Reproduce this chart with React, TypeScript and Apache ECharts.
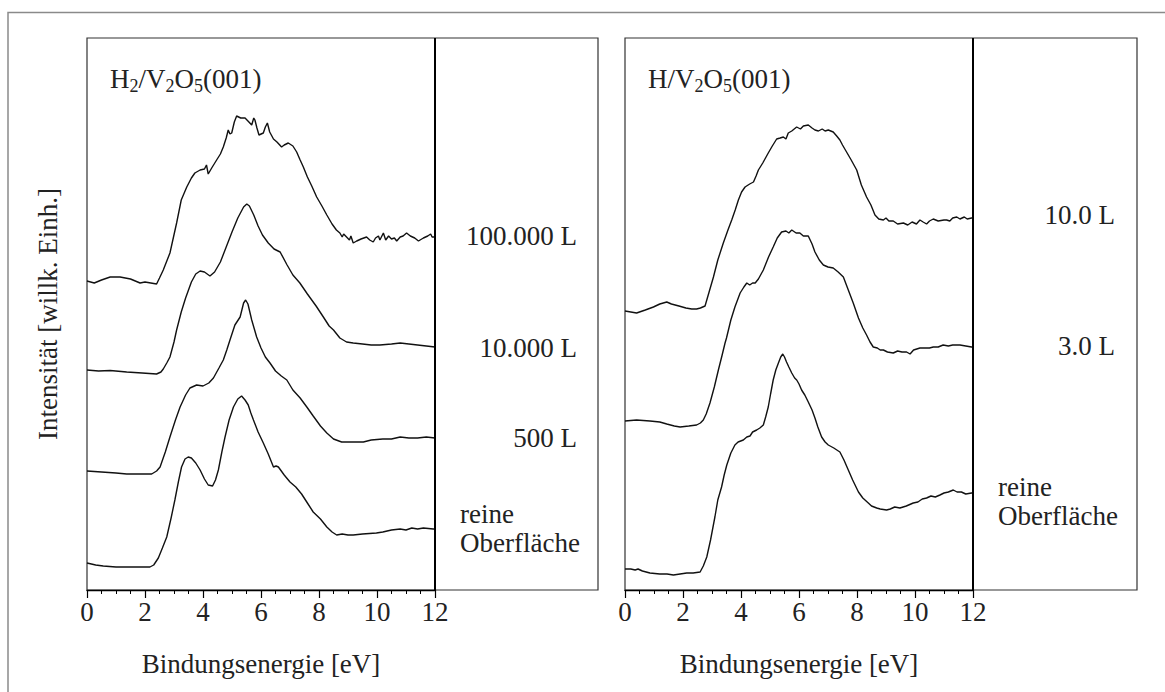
import React, { useEffect, useRef } from "react";
import * as echarts from "echarts";

const FONT = "'Liberation Serif', 'Times New Roman', serif";

// x: binding energy [eV], y: intensity (arbitrary units, offset spectra as drawn)
const xTicks = [0, 2, 4, 6, 8, 10, 12];

const leftTitle = "H₂/V₂O₅(001)";
const rightTitle = "H/V₂O₅(001)";
const leftLabels = ["100.000 L", "10.000 L", "500 L", "reine Oberfläche"];
const rightLabels = ["10.0 L", "3.0 L", "reine Oberfläche"];

const h2_100000: [number, number][] = [
  [0, 309], [0.25, 307], [0.5, 310], [0.8, 313], [1.14, 313], [1.5, 311], [1.83, 307], [2.0, 308], [2.2, 307], [2.4, 306],
  [2.5, 312], [2.63, 320], [2.86, 337], [3.09, 367], [3.25, 390], [3.44, 403], [3.6, 412], [3.72, 417], [3.9, 420], [4.05, 421],
  [4.12, 425], [4.18, 416], [4.3, 422], [4.47, 430], [4.6, 436], [4.7, 443], [4.8, 452], [4.87, 460], [4.93, 456], [4.99, 457],
  [5.08, 468], [5.16, 474], [5.3, 472], [5.45, 472], [5.55, 469], [5.68, 465], [5.75, 472], [5.79, 470], [5.86, 462], [5.93, 455],
  [6.08, 457], [6.15, 463], [6.22, 467], [6.3, 458], [6.43, 451], [6.55, 448], [6.71, 443], [6.8, 445], [6.94, 447], [7.1, 444],
  [7.23, 438], [7.35, 430], [7.46, 423], [7.6, 413], [7.75, 404], [7.92, 393], [8.1, 384], [8.27, 375], [8.45, 366], [8.6, 360],
  [8.72, 357], [8.8, 353], [8.85, 356], [8.95, 353], [9.05, 350], [9.1, 354], [9.18, 347], [9.3, 349], [9.45, 351], [9.64, 353],
  [9.75, 350], [9.87, 348], [9.95, 352], [10.05, 354], [10.1, 350], [10.22, 357], [10.3, 350], [10.4, 354], [10.5, 351], [10.6, 352],
  [10.68, 349], [10.8, 353], [10.9, 354], [11.02, 357], [11.15, 354], [11.3, 352], [11.43, 349], [11.6, 352], [11.75, 354], [11.85, 356],
  [11.9, 353], [12, 353],
];

const h2_10000: [number, number][] = [
  [0, 220], [0.4, 219], [0.8, 219.5], [1.37, 218], [1.9, 217], [2.4, 216], [2.55, 218], [2.63, 221], [2.75, 227], [2.86, 233],
  [3.0, 248], [3.09, 260], [3.25, 278], [3.4, 292], [3.6, 308], [3.75, 316], [3.9, 319], [4.05, 318], [4.24, 314], [4.4, 318],
  [4.6, 328], [4.8, 343], [5.0, 358], [5.2, 372], [5.4, 383], [5.51, 386], [5.6, 384], [5.75, 375], [5.9, 364], [6.05, 355],
  [6.25, 347], [6.45, 341], [6.66, 338], [6.9, 325], [7.1, 315], [7.34, 307], [7.6, 296], [7.9, 284], [8.15, 273], [8.35, 264],
  [8.5, 260], [8.72, 252], [8.95, 248], [9.18, 247], [9.5, 246], [9.8, 245], [10.1, 245], [10.5, 246], [10.8, 247], [11.1, 246],
  [11.4, 245], [11.7, 244], [12, 243],
];

const h2_500: [number, number][] = [
  [0, 119], [0.5, 118], [1.0, 117], [1.37, 116], [1.8, 116], [2.23, 116], [2.4, 119], [2.52, 123], [2.7, 138], [2.86, 153],
  [3.05, 170], [3.21, 183], [3.4, 195], [3.55, 202], [3.78, 205], [4.0, 204], [4.2, 207], [4.36, 212], [4.55, 222], [4.7, 230],
  [4.82, 240], [4.93, 250], [5.1, 265], [5.28, 273], [5.4, 287], [5.47, 290], [5.55, 286], [5.68, 270], [5.85, 253], [6.0, 242],
  [6.15, 233], [6.31, 227], [6.5, 219], [6.7, 214], [6.89, 210], [7.1, 200], [7.35, 192], [7.58, 183], [7.8, 174], [8.05, 164],
  [8.27, 157], [8.5, 151], [8.78, 148], [9.1, 148], [9.53, 148], [9.8, 150], [10.2, 151], [10.5, 151], [10.8, 153], [11.1, 152],
  [11.4, 152], [11.7, 153], [12, 152],
];

const h2_clean: [number, number][] = [
  [0, 27], [0.3, 25], [0.56, 24], [1.0, 23], [1.37, 23], [1.8, 23], [2.17, 23], [2.3, 25], [2.46, 32], [2.6, 42],
  [2.75, 53], [2.9, 72], [3.03, 90], [3.15, 108], [3.26, 123], [3.38, 131], [3.49, 133], [3.6, 132], [3.75, 127], [3.9, 120],
  [4.05, 111], [4.18, 105], [4.33, 104], [4.43, 110], [4.53, 120], [4.65, 138], [4.76, 153], [4.9, 170], [5.05, 183], [5.2, 191],
  [5.33, 194], [5.45, 190], [5.56, 185], [5.65, 177], [5.74, 170], [5.9, 158], [6.08, 147], [6.25, 136], [6.43, 123], [6.52, 124],
  [6.6, 123], [6.8, 115], [7.0, 108], [7.2, 103], [7.4, 96], [7.6, 87], [7.8, 78], [8.05, 71], [8.27, 63], [8.45, 58],
  [8.61, 55], [8.8, 56], [9.0, 55], [9.18, 55], [9.5, 56], [9.98, 57], [10.2, 58], [10.5, 60], [10.8, 61], [11.0, 60],
  [11.2, 62], [11.4, 61], [11.6, 62], [11.94, 61], [12, 61],
];

const h_10: [number, number][] = [
  [0, 279], [0.2, 278], [0.4, 277], [0.7, 280], [0.98, 283], [1.2, 286], [1.44, 288], [1.6, 286], [1.86, 284], [2.1, 282],
  [2.3, 281], [2.47, 281], [2.6, 282], [2.76, 284], [2.9, 298], [3.05, 313], [3.2, 330], [3.39, 347], [3.55, 360], [3.68, 370],
  [3.8, 380], [3.91, 390], [4.02, 398], [4.14, 403], [4.3, 406], [4.43, 408], [4.52, 414], [4.6, 420], [4.75, 427], [4.94, 437],
  [5.08, 444], [5.23, 451], [5.35, 452], [5.46, 453], [5.55, 451], [5.63, 457], [5.75, 459], [5.92, 463], [6.05, 461], [6.15, 464],
  [6.32, 465], [6.45, 462], [6.55, 460], [6.67, 459], [6.8, 461], [6.9, 459], [7.01, 460], [7.18, 458], [7.3, 454], [7.41, 450],
  [7.5, 445], [7.64, 438], [7.8, 430], [7.99, 420], [8.15, 405], [8.33, 393], [8.48, 385], [8.62, 375], [8.75, 371], [8.91, 370],
  [9.0, 372], [9.1, 369], [9.25, 369], [9.4, 366], [9.6, 367], [9.75, 365], [9.9, 368], [10.05, 366], [10.17, 370], [10.28, 368],
  [10.4, 366], [10.5, 369], [10.63, 371], [10.8, 369], [11.0, 370], [11.09, 370], [11.2, 369], [11.3, 372], [11.44, 373], [11.55, 371],
  [11.7, 373], [11.8, 371], [11.95, 372], [12, 372],
];

const h_3: [number, number][] = [
  [0, 169], [0.4, 170], [0.86, 169], [1.2, 168], [1.44, 166], [1.7, 164], [1.9, 163], [2.2, 164], [2.47, 165], [2.6, 167],
  [2.7, 170], [2.8, 176], [2.93, 187], [3.08, 203], [3.22, 220], [3.35, 235], [3.45, 247], [3.5, 252], [3.65, 270], [3.79, 283],
  [3.97, 297], [4.1, 303], [4.2, 307], [4.3, 305], [4.4, 307], [4.49, 307], [4.6, 311], [4.77, 320], [4.95, 333], [5.11, 343],
  [5.25, 352], [5.4, 358], [5.55, 359], [5.65, 357], [5.75, 360], [5.9, 357], [6.03, 357], [6.15, 354], [6.32, 354], [6.45, 346],
  [6.55, 338], [6.7, 330], [6.84, 325], [7.0, 323], [7.18, 322], [7.35, 318], [7.53, 313], [7.7, 300], [7.87, 287], [8.05, 272],
  [8.2, 262], [8.33, 255], [8.45, 248], [8.56, 243], [8.7, 242], [8.8, 240], [8.91, 240], [9.05, 238], [9.25, 237], [9.4, 239],
  [9.55, 238], [9.71, 238], [9.83, 236], [9.95, 240], [10.17, 242], [10.35, 242], [10.5, 242], [10.63, 243], [10.8, 243], [10.97, 245],
  [11.15, 244], [11.3, 245], [11.55, 245], [11.75, 244], [11.95, 243], [12, 243],
];

const h_clean: [number, number][] = [
  [0, 21], [0.2, 21], [0.35, 20], [0.45, 21], [0.6, 19], [0.86, 17], [1.2, 16], [1.45, 16], [1.67, 15], [1.9, 16],
  [2.13, 17], [2.35, 17], [2.59, 18], [2.7, 24], [2.82, 33], [2.95, 50], [3.1, 73], [3.2, 90], [3.33, 103], [3.42, 115],
  [3.51, 125], [3.65, 137], [3.79, 145], [3.9, 148], [4.08, 150], [4.2, 153], [4.31, 154], [4.4, 158], [4.54, 160], [4.65, 162],
  [4.77, 165], [4.85, 173], [4.94, 183], [5.02, 196], [5.11, 210], [5.2, 220], [5.29, 227], [5.37, 233], [5.44, 236], [5.5, 233],
  [5.57, 228], [5.65, 223], [5.75, 217], [5.85, 212], [5.92, 210], [6.0, 206], [6.09, 200], [6.2, 195], [6.32, 188], [6.45, 180],
  [6.55, 172], [6.65, 163], [6.78, 153], [6.9, 148], [7.01, 145], [7.2, 142], [7.41, 138], [7.55, 130], [7.7, 120], [7.85, 110],
  [8.05, 98], [8.2, 92], [8.39, 87], [8.5, 84], [8.68, 82], [8.8, 81], [9.02, 80], [9.15, 81], [9.3, 83], [9.48, 82],
  [9.7, 84], [9.94, 87], [10.1, 88], [10.25, 91], [10.4, 92], [10.55, 94], [10.7, 93], [10.86, 95], [11.0, 97], [11.15, 98],
  [11.32, 100], [11.45, 98], [11.6, 98], [11.75, 96], [11.95, 97], [12, 97],
];

const leftSeries = [h2_100000, h2_10000, h2_500, h2_clean];
const rightSeries = [h_10, h_3, h_clean];

const TOP = 38;
const BOTTOM = 590;
const PLOT_H = BOTTOM - TOP;
const TEXT = "#222";
const FS = 27;

export default function App() {
  const ref = useRef<HTMLDivElement>(null);
  useEffect(() => {
    if (!ref.current) return;
    const chart = echarts.init(ref.current, undefined, { renderer: "svg" });

    const xAxisBase = (gridIndex: number) => ({
      gridIndex,
      type: "value",
      min: xTicks[0],
      max: xTicks[xTicks.length - 1],
      interval: xTicks[1] - xTicks[0],
      axisLine: { show: true, lineStyle: { color: "#000", width: 1.3 } },
      axisTick: { show: true, inside: false, length: 8, lineStyle: { color: "#000", width: 1.2 } },
      minorTick: { show: true, splitNumber: 4, length: 4, lineStyle: { color: "#000", width: 1 } },
      splitLine: { show: false },
      minorSplitLine: { show: false },
      axisLabel: { fontSize: FS, fontFamily: FONT, color: TEXT, margin: 8 },
      name: "Bindungsenergie [eV]",
      nameLocation: "middle",
      nameGap: 60,
      nameTextStyle: { fontSize: FS, fontFamily: FONT, color: TEXT },
    });

    const yAxisBase = (gridIndex: number, name: string) => ({
      gridIndex,
      type: "value",
      min: 0,
      max: PLOT_H,
      axisLine: { show: false },
      axisTick: { show: false },
      axisLabel: { show: false },
      splitLine: { show: false },
      name,
      nameLocation: "middle",
      nameGap: 26,
      nameTextStyle: { fontSize: FS, fontFamily: FONT, color: TEXT },
    });

    const mkSeries = (data: [number, number][], idx: number, withMark: boolean) => ({
      type: "line",
      xAxisIndex: idx,
      yAxisIndex: idx,
      data,
      showSymbol: false,
      symbol: "none",
      lineStyle: { color: "#111", width: 1.4 },
      silent: true,
      markLine: withMark
        ? {
            silent: true,
            symbol: ["none", "none"],
            label: { show: false },
            lineStyle: { color: "#000", width: 2, type: "solid" },
            data: [{ xAxis: xTicks[xTicks.length - 1] }],
          }
        : undefined,
    });

    const titleRich = {
      n: { fontSize: FS, fontFamily: FONT, fill: TEXT, lineHeight: 32 },
      s: { fontSize: 18, fontFamily: FONT, fill: TEXT, lineHeight: 19, verticalAlign: "bottom" },
    };
    const richTitle = (t: string) =>
      t.replace(/([₂₅])/g, (c) => `{s|${c === "₂" ? "2" : "5"}}`).replace(/(^|\})([^{}]+)(?=\{|$)/g, (_m, a, b) => `${a}{n|${b}}`);

    const txt = (text: string, x: number, y: number, align: string) => ({
      type: "text",
      x,
      y,
      silent: true,
      style: { text, fontSize: FS, fontFamily: FONT, fill: TEXT, align, verticalAlign: "middle" },
    });

    const [lr, lo] = leftLabels[3].split(" ");
    const [rr, ro] = rightLabels[2].split(" ");

    const option = {
      animation: false,
      backgroundColor: "#fff",
      grid: [
        { left: 87, top: TOP, width: 348, height: PLOT_H },
        { left: 625, top: TOP, width: 348, height: PLOT_H },
      ],
      xAxis: [xAxisBase(0), xAxisBase(1)],
      yAxis: [yAxisBase(0, "Intensität [willk. Einh.]"), yAxisBase(1, "")],
      series: [
        ...leftSeries.map((d, i) => mkSeries(d, 0, i === 0)),
        ...rightSeries.map((d, i) => mkSeries(d, 1, i === 0)),
      ],
      graphic: [
        { type: "rect", silent: true, shape: { x: 8, y: 12.5, width: 1400, height: 900 }, style: { fill: "none", stroke: "#8a8a8a", lineWidth: 1.5 } },
        { type: "rect", silent: true, shape: { x: 87, y: TOP, width: 511, height: PLOT_H }, style: { fill: "none", stroke: "#333", lineWidth: 1.2 } },
        { type: "rect", silent: true, shape: { x: 625, y: TOP, width: 512, height: PLOT_H }, style: { fill: "none", stroke: "#333", lineWidth: 1.2 } },
        { type: "text", x: 110, y: 79, silent: true, style: { text: richTitle(leftTitle), rich: titleRich, align: "left", verticalAlign: "middle", fontFamily: FONT, fontSize: FS, fill: TEXT } },
        { type: "text", x: 648, y: 79, silent: true, style: { text: richTitle(rightTitle), rich: titleRich, align: "left", verticalAlign: "middle", fontFamily: FONT, fontSize: FS, fill: TEXT } },
        txt(leftLabels[0], 577, 236, "right"),
        txt(leftLabels[1], 577, 348, "right"),
        txt(leftLabels[2], 577, 438, "right"),
        txt(lr, 460, 514, "left"),
        txt(lo, 460, 543, "left"),
        txt(rightLabels[0], 1115, 215, "right"),
        txt(rightLabels[1], 1115, 346, "right"),
        txt(rr, 998, 487, "left"),
        txt(ro, 998, 516, "left"),
      ],
    };
    chart.setOption(option as any);
    return () => chart.dispose();
  }, []);
  return (
    <div
      ref={ref}
      style={{ position: "absolute", left: 0, top: 0, width: 1165, height: 692, background: "#fff" }}
    />
  );
}
